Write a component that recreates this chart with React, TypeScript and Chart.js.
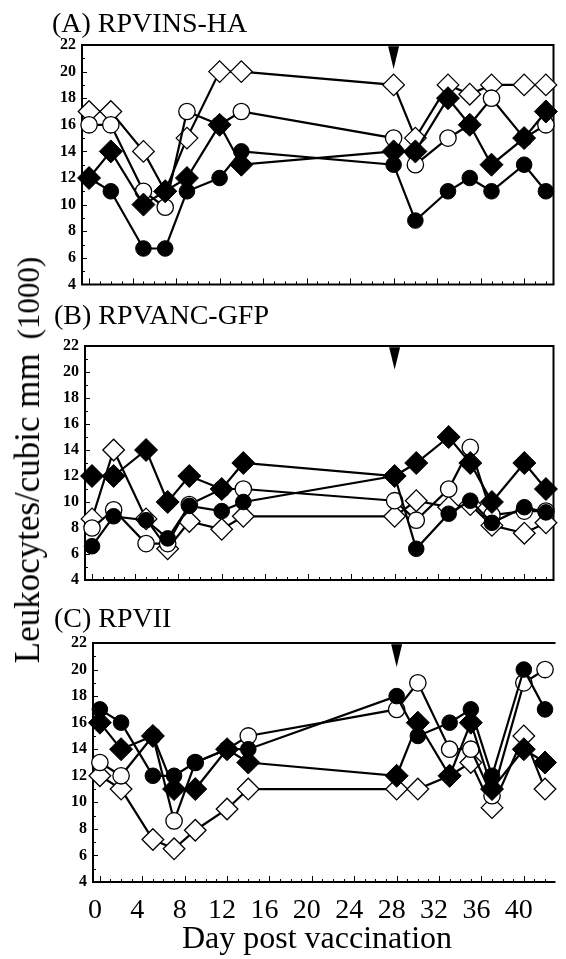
import React, { useEffect, useRef } from 'react';
import { Chart, registerables } from 'chart.js';

Chart.register(...registerables);

// ---------- data ----------
const days = [0, 2, 5, 7, 9, 12, 14, 28, 30, 33, 35, 37, 40, 42];
const xTickLabels = [0, 4, 8, 12, 16, 20, 24, 28, 32, 36, 40];
const yTickLabels = [4, 6, 8, 10, 12, 14, 16, 18, 20, 22];
const vaccinationDay = 28;

// (A) RPVINS-HA
const aFilledDiamond = [12, 14, 10, 11, 12, 16, 13, 14, 14, 18, 16, 13, 15, 17];
const aFilledCircle = [12, 11, 6.7, 6.7, 11, 12, 14, 13, 8.8, 11, 12, 11, 13, 11];
const aOpenCircle = [16, 16, 11, 9.8, 17, 16, 17, 15, 13, 15, 16, 18, 15, 16];
const aOpenDiamond = [17, 17, 14, 11, 15, 20, 20, 19, 15, 19, 18.3, 19, 19, 19];

// (B) RPVANC-GFP
const bFilledDiamond = [12, 12, 14, 10, 12, 11, 13, 12, 13, 15, 13, 10, 13, 11];
const bFilledCircle = [6.6, 8.9, 8.6, 7.2, 9.7, 9.3, 10, 12, 6.4, 9.1, 10.1, 8.4, 9.6, 9.2];
const bOpenCircle = [8.0, 9.4, 6.8, 6.8, 9.8, 11, 11, 10.1, 8.6, 11, 14.2, 9.0, 9.3, 9.3];
const bOpenDiamond = [8.7, 14, 8.7, 6.4, 8.5, 7.9, 8.9, 8.9, 10.1, 9.6, 9.8, 8.2, 7.6, 8.4];

// (C) RPVII
const cFilledDiamond = [16, 14, 15, 11, 11, 14, 13, 12, 16, 12, 16, 11, 14, 13];
const cFilledCircle = [17, 16, 12, 12, 13, 14, 14, 18, 15, 16, 17, 12, 20, 17];
const cOpenCircle = [13, 12, 15, 8.6, 13, 14, 15, 17, 19, 14, 14, 10.5, 19, 20];
const cOpenDiamond = [12, 11, 7.2, 6.5, 7.9, 9.5, 11, 11, 11, 12, 13, 9.6, 15, 11];

const panelTitles = ['(A) RPVINS-HA', '(B) RPVANC-GFP', '(C) RPVII'];
const yTitleMain = 'Leukocytes/cubic mm';
const yTitleUnit = '(1000)';
const xTitle = 'Day post vaccination';

// ---------- layout ----------
const SERIF = '"Liberation Serif", "Times New Roman", Times, serif';
const PAGE_W = 566;

type PanelCfg = {
  title: string;
  series: number[][]; // filledDiamond, filledCircle, openCircle, openDiamond
  top: number;
  h: number;
  xMax: number;
  area: { left: number; right: number; top: number; bottom: number };
  showX: boolean;
  rightBorder: boolean;
  titleTop: number;
  titleLeft: number;
};

const panels: PanelCfg[] = [
  {
    title: panelTitles[0],
    series: [aFilledDiamond, aFilledCircle, aOpenCircle, aOpenDiamond],
    top: 0, h: 300, xMax: 42.7,
    area: { left: 82, right: 560, top: 45, bottom: 288 },
    showX: false, rightBorder: true, titleTop: 9, titleLeft: 52,
  },
  {
    title: panelTitles[1],
    series: [bFilledDiamond, bFilledCircle, bOpenCircle, bOpenDiamond],
    top: 300, h: 300, xMax: 42.7,
    area: { left: 85, right: 563, top: 46, bottom: 280 },
    showX: false, rightBorder: true, titleTop: 301, titleLeft: 54,
  },
  {
    title: panelTitles[2],
    series: [cFilledDiamond, cFilledCircle, cOpenCircle, cOpenDiamond],
    top: 600, h: 359, xMax: 42.8,
    area: { left: 93, right: 566, top: 43, bottom: 282 },
    showX: true, rightBorder: false, titleTop: 604, titleLeft: 54,
  },
];

const markerStyles = [
  { style: 'rectRot', r: 11.5, open: false },
  { style: 'circle', r: 7.8, open: false },
  { style: 'circle', r: 8.2, open: true },
  { style: 'rectRot', r: 10.8, open: true },
];

function makeFramePlugin(rightBorder: boolean) {
  return {
    id: 'frame',
    beforeDatasetsDraw(chart: any) {
      const { ctx, chartArea: a, scales } = chart;
      const x = scales.x, y = scales.y;
      ctx.save();
      ctx.strokeStyle = '#000';
      ctx.lineWidth = 2;
      ctx.beginPath();
      ctx.moveTo(a.right + (rightBorder ? 0 : 2), a.top);
      ctx.lineTo(a.left, a.top);
      ctx.lineTo(a.left, a.bottom);
      ctx.lineTo(a.right + (rightBorder ? 0 : 2), a.bottom);
      if (rightBorder) ctx.closePath();
      ctx.stroke();
      ctx.lineWidth = 1;
      ctx.beginPath();
      for (let d = 0; d <= 42; d++) {
        const px = Math.round(x.getPixelForValue(d)) + 0.5;
        const len = d % 4 === 0 ? 6 : 3;
        ctx.moveTo(px, a.bottom);
        ctx.lineTo(px, a.bottom - len);
      }
      for (let v = 5; v < 22; v++) {
        const py = Math.round(y.getPixelForValue(v)) + 0.5;
        const len = v % 2 === 0 ? 5 : 3;
        ctx.moveTo(a.left, py);
        ctx.lineTo(a.left + len, py);
      }
      ctx.stroke();
      ctx.restore();
    },
    afterDatasetsDraw(chart: any) {
      const { ctx, scales } = chart;
      const x = scales.x, y = scales.y;
      const ax = x.getPixelForValue(vaccinationDay);
      const yTop = y.getPixelForValue(21.9);
      const yTip = y.getPixelForValue(20.2);
      ctx.save();
      ctx.fillStyle = '#000';
      ctx.beginPath();
      ctx.moveTo(ax - 5.5, yTop);
      ctx.lineTo(ax + 5.5, yTop);
      ctx.lineTo(ax, yTip);
      ctx.closePath();
      ctx.fill();
      ctx.restore();
    },
  };
}

function Panel({ cfg }: { cfg: PanelCfg }) {
  const ref = useRef<HTMLCanvasElement>(null);
  useEffect(() => {
    const { area, h, showX } = cfg;
    const xAxisH = showX ? h - area.bottom : 0;
    const chart = new Chart(ref.current as HTMLCanvasElement, {
      type: 'line',
      data: {
        datasets: cfg.series.map((vals, i) => {
          const m = markerStyles[i];
          return {
            data: days.map((d, k) => ({ x: d, y: vals[k] })),
            borderColor: '#000',
            backgroundColor: '#000',
            borderWidth: 2.2,
            tension: 0,
            pointStyle: m.style as any,
            pointRadius: m.r,
            pointBackgroundColor: m.open ? '#fff' : '#000',
            pointBorderColor: '#000',
            pointBorderWidth: m.open ? 1.3 : 1,
            clip: false as any,
          };
        }),
      },
      options: {
        animation: false,
        responsive: false,
        maintainAspectRatio: false,
        devicePixelRatio: 1,
        events: [],
        layout: {
          padding: {
            left: 0,
            top: area.top,
            right: PAGE_W - area.right,
            bottom: h - area.bottom - xAxisH,
          },
        },
        plugins: {
          legend: { display: false },
          tooltip: { enabled: false },
          title: { display: false },
        },
        scales: {
          x: {
            type: 'linear',
            min: -0.65,
            max: cfg.xMax,
            afterBuildTicks: (s: any) => {
              s.ticks = xTickLabels.map((v) => ({ value: v }));
            },
            afterFit: (s: any) => {
              s.height = xAxisH;
            },
            grid: { display: false, drawTicks: false },
            border: { display: false },
            ticks: {
              display: showX,
              autoSkip: false,
              maxRotation: 0,
              labelOffset: -5,
              padding: 12,
              color: '#000',
              font: { family: SERIF, size: 28 },
              callback: (v: any) => String(v),
            },
          },
          y: {
            type: 'linear',
            min: 4,
            max: 22,
            afterBuildTicks: (s: any) => {
              s.ticks = yTickLabels.map((v) => ({ value: v }));
            },
            afterFit: (s: any) => {
              s.width = area.left;
            },
            grid: { display: false, drawTicks: false },
            border: { display: false },
            ticks: {
              padding: 6,
              color: '#000',
              font: { family: SERIF, size: 16, weight: 'bold' },
              callback: (v: any) => String(v),
            },
          },
        },
      },
      plugins: [makeFramePlugin(cfg.rightBorder)],
    } as any);
    return () => chart.destroy();
  }, [cfg]);
  return (
    <canvas
      ref={ref}
      width={PAGE_W}
      height={cfg.h}
      style={{ position: 'absolute', left: 0, top: cfg.top, width: PAGE_W, height: cfg.h }}
    />
  );
}

export default function App() {
  return (
    <div
      style={{
        position: 'absolute',
        left: 0,
        top: 0,
        width: PAGE_W,
        height: 959,
        background: '#fff',
        overflow: 'hidden',
        fontFamily: SERIF,
        color: '#000',
      }}
    >
      {panels.map((p, i) => (
        <Panel key={i} cfg={p} />
      ))}
      {panels.map((p, i) => (
        <div
          key={'t' + i}
          style={{
            position: 'absolute',
            left: p.titleLeft,
            top: p.titleTop,
            fontSize: 28,
            lineHeight: '28px',
            whiteSpace: 'nowrap',
          }}
        >
          {p.title}
        </div>
      ))}
      <div
        style={{
          position: 'absolute',
          left: 28,
          top: 460,
          transform: 'translate(-50%, -50%) rotate(-90deg)',
          fontSize: 35,
          lineHeight: '35px',
          whiteSpace: 'nowrap',
        }}
      >
        <span>{yTitleMain}</span>
        <span style={{ display: 'inline-block', width: 14 }} />
        <span style={{ fontSize: 31 }}>{yTitleUnit}</span>
      </div>
      <div
        style={{
          position: 'absolute',
          left: 317,
          top: 937,
          transform: 'translate(-50%, -50%)',
          fontSize: 32,
          lineHeight: '32px',
          whiteSpace: 'nowrap',
        }}
      >
        {xTitle}
      </div>
    </div>
  );
}
